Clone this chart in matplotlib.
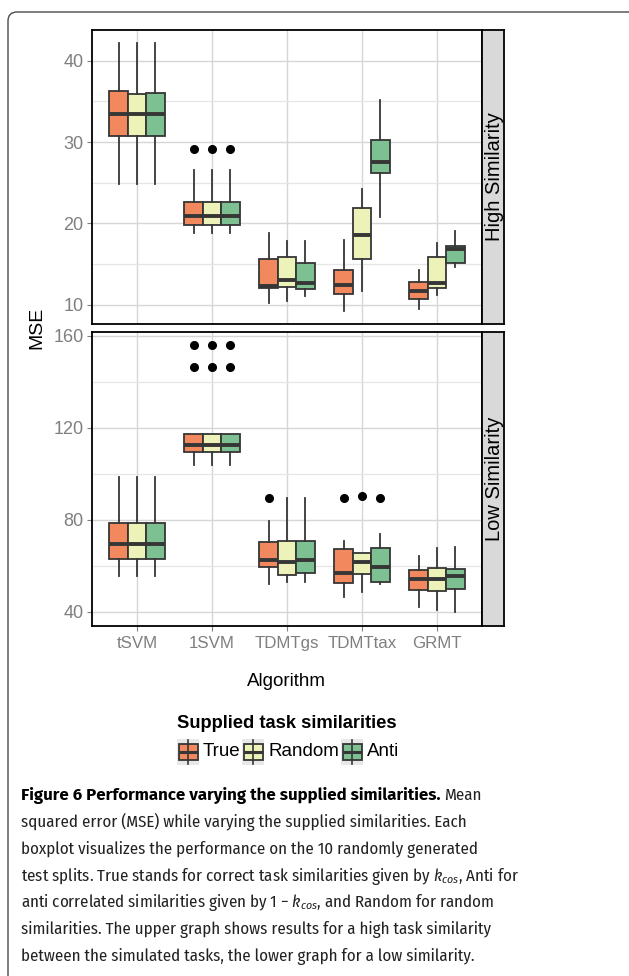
import matplotlib
matplotlib.use("Agg")
import matplotlib.pyplot as plt
from matplotlib import font_manager
from matplotlib.patches import Rectangle, FancyBboxPatch
from matplotlib.lines import Line2D
from matplotlib.transforms import IdentityTransform

algorithms = ["tSVM", "1SVM", "TDMTgs", "TDMTtax", "GRMT"]
groups = ["True", "Random", "Anti"]
fills = ["#F2895E", "#EDF2B8", "#7DC091"]

# five-number summaries per algorithm: whisker low, q1, median, q3, whisker high
high_true = [[24.8, 30.75, 33.4, 36.3, 42.15], [18.8, 19.8, 20.9, 22.6, 26.6],
             [10.15, 12.05, 12.3, 15.6, 18.85], [9.2, 11.3, 12.4, 14.2, 18.0],
             [9.45, 10.65, 11.65, 12.8, 14.25]]
high_random = [[24.8, 30.75, 33.4, 35.95, 42.15], [18.8, 19.8, 20.9, 22.6, 26.6],
               [10.4, 12.15, 13.0, 15.85, 17.8], [11.7, 15.6, 18.6, 21.9, 24.2],
               [11.2, 12.05, 12.6, 15.8, 17.6]]
high_anti = [[24.8, 30.75, 33.4, 36.0, 42.15], [18.8, 19.8, 20.9, 22.6, 26.6],
             [11.0, 11.95, 12.6, 15.15, 17.8], [20.75, 26.2, 27.5, 30.3, 35.2],
             [14.6, 15.1, 16.85, 17.15, 19.1]]
high_fliers = {"True": [[], [29.15], [], [], []],
               "Random": [[], [29.15], [], [], []],
               "Anti": [[], [29.15], [], [], []]}

low_true = [[55.6, 62.9, 69.7, 78.6, 98.8], [103.9, 109.4, 112.5, 117.1, 117.1],
            [52.0, 59.6, 62.6, 70.4, 79.7], [46.7, 52.5, 57.1, 67.4, 70.7],
            [42.0, 49.6, 54.3, 58.3, 64.5]]
low_random = [[55.6, 62.9, 69.7, 78.6, 98.8], [103.9, 109.4, 112.5, 117.1, 117.1],
              [52.9, 56.2, 61.9, 70.6, 89.4], [48.8, 56.5, 61.7, 65.5, 65.8],
              [40.9, 49.0, 54.2, 59.3, 67.7]]
low_anti = [[55.6, 62.9, 69.7, 78.6, 98.8], [103.9, 109.4, 112.5, 117.1, 117.1],
            [52.9, 57.1, 62.6, 70.6, 89.4], [52.0, 52.9, 59.7, 67.8, 73.8],
            [39.9, 50.0, 55.7, 58.7, 68.4]]
low_fliers = {"True": [[], [146.2, 155.8], [89.4], [89.3], []],
              "Random": [[], [146.2, 155.8], [], [90.4], []],
              "Anti": [[], [146.2, 155.8], [], [89.7], []]}

caption_head = "Figure 6 Performance varying the supplied similarities."
caption_lines = [
    "Mean",
    "squared error (MSE) while varying the supplied similarities. Each",
    "boxplot visualizes the performance on the 10 randomly generated",
    "test splits. True stands for correct task similarities given by $k_{cos}$, Anti for",
    "anti correlated similarities given by 1 \u2212 $k_{cos}$, and Random for random",
    "similarities. The upper graph shows results for a high task similarity",
    "between the simulated tasks, the lower graph for a low similarity.",
]


# a narrow humanist face for the caption (needs bold and italic), Lato otherwise
def has_styles(name, need_italic=True):
    faces = [f for f in font_manager.fontManager.ttflist if f.name == name]
    bold = any(f.weight in (600, 700, "bold", "semibold") and f.style == "normal" for f in faces)
    ital = any(f.style == "italic" for f in faces)
    return bold and (ital or not need_italic)


cap_font = next((n for n in ["Fira Sans Condensed", "PT Sans Narrow", "Lato"]
                 if has_styles(n)), "Lato")
head_font = "Fira Sans" if cap_font == "Fira Sans Condensed" and has_styles("Fira Sans", False) \
    else cap_font
plt.rcParams["font.family"] = ["Liberation Sans", "DejaVu Sans"]
plt.rcParams["mathtext.fontset"] = "custom"
plt.rcParams["mathtext.rm"] = cap_font
plt.rcParams["mathtext.it"] = cap_font + ":italic"

W, H = 629, 976
fig = plt.figure(figsize=(W / 100, H / 100), dpi=100)


def fbox(x0, y0, x1, y1):
    return [x0 / W, 1 - y1 / H, (x1 - x0) / W, (y1 - y0) / H]


def fx(px):
    return px / W


def fy(py):
    return 1 - py / H


line_c = "#363636"
tick_c = "#7f7f7f"


def draw_panel(ax, series, fliers, ylim, major, minor):
    for k, (g, data) in enumerate(zip(groups, series)):
        stats = []
        for i, row in enumerate(data):
            stats.append(dict(whislo=row[0], q1=row[1], med=row[2], q3=row[3],
                              whishi=row[4], fliers=fliers[g][i]))
        pos = [i + 1 + (k - 1) * 0.245 for i in range(len(algorithms))]
        ax.bxp(stats, positions=pos, widths=0.245, patch_artist=True, showcaps=False,
               manage_ticks=False,
               boxprops=dict(facecolor=fills[k], edgecolor=line_c, linewidth=1.3),
               medianprops=dict(color=line_c, linewidth=2.8, solid_capstyle="butt"),
               whiskerprops=dict(color=line_c, linewidth=1.3),
               flierprops=dict(marker="o", markerfacecolor="black",
                               markeredgecolor="black", markersize=5.5))
    ax.set_xlim(0.4, 5.6)
    ax.set_ylim(*ylim)
    ax.set_xticks(range(1, 6))
    ax.set_yticks(major)
    ax.set_yticks(minor, minor=True)
    ax.set_axisbelow(True)
    ax.grid(which="major", color="#d6d6d6", linewidth=1.0)
    ax.grid(which="minor", axis="y", color="#e6e6e6", linewidth=0.9)
    ax.tick_params(which="minor", length=0)
    ax.tick_params(which="major", length=3.5, color=tick_c, labelcolor=tick_c,
                   labelsize=13, pad=2.5)
    for s in ax.spines.values():
        s.set_color("black")
        s.set_linewidth(1.3)


def draw_strip(ax, label):
    ax.set_facecolor("#d9d9d9")
    ax.set_xticks([])
    ax.set_yticks([])
    for s in ax.spines.values():
        s.set_color("black")
        s.set_linewidth(1.3)
    ax.text(0.56, 0.5, label, rotation=90, ha="center", va="center",
            fontsize=14.5, transform=ax.transAxes)


# outer frame of the figure box
frame = FancyBboxPatch((8, -60), 700, H - 12 + 60, boxstyle="round,pad=0,rounding_size=9",
                       transform=IdentityTransform(), facecolor="none",
                       edgecolor="#4a4a4a", linewidth=1.0)
fig.add_artist(frame)

ax_hi = fig.add_axes(fbox(92, 30, 482, 324))
ax_lo = fig.add_axes(fbox(92, 331.7, 482, 626))
draw_panel(ax_hi, [high_true, high_random, high_anti], high_fliers,
           (7.6, 43.8), [10, 20, 30, 40], [15, 25, 35])
draw_panel(ax_lo, [low_true, low_random, low_anti], low_fliers,
           (33.9, 161.7), [40, 80, 120, 160], [60, 100, 140])
ax_hi.tick_params(axis="x", length=0, labelbottom=False)
ax_lo.set_xticklabels(algorithms)
ax_lo.tick_params(axis="x", labelsize=12.2, pad=4)

draw_strip(fig.add_axes(fbox(482, 30, 504, 324)), "High Similarity")
draw_strip(fig.add_axes(fbox(482, 331.7, 504, 626)), "Low Similarity")

fig.text(fx(37), fy(328), "MSE", rotation=90, ha="center", va="center", fontsize=14)
fig.text(fx(286), fy(681), "Algorithm", ha="center", va="center", fontsize=13.5)

# legend
fig.text(fx(287), fy(723), "Supplied task similarities", ha="center", va="center",
         fontsize=13.2, fontweight="bold")
key_x = [177, 242, 341]
for x0, g, c in zip(key_x, groups, fills):
    fig.add_artist(Rectangle((fx(x0), fy(765)), 22 / W, 26 / H, transform=fig.transFigure,
                             facecolor="#e8e8e8", edgecolor="none"))
    fig.add_artist(Line2D([fx(x0 + 11)] * 2, [fy(740), fy(764)], transform=fig.transFigure,
                          color=line_c, linewidth=1.2))
    fig.add_artist(Rectangle((fx(x0 + 1.5), fy(760)), 19 / W, 16 / H, transform=fig.transFigure,
                             facecolor=c, edgecolor=line_c, linewidth=1.3))
    fig.add_artist(Line2D([fx(x0 + 1.5), fx(x0 + 20.5)], [fy(752)] * 2, transform=fig.transFigure,
                          color=line_c, linewidth=2.2, solid_capstyle="butt"))
    fig.text(fx(x0 + 26), fy(752), g, ha="left", va="center", fontsize=13.5)

# caption, sized so the widest line matches the reference width
r = fig.canvas.get_renderer()
probe = fig.text(0, 0, caption_lines[3], fontsize=14, family=cap_font)
cap_size = 14 * 498 / probe.get_window_extent(r).width
probe.remove()

first = fig.text(fx(21), fy(800.5), caption_head, ha="left", va="baseline",
                 fontsize=cap_size, fontweight="bold", family=head_font)
bb = first.get_window_extent(r)
# keep the bold heading from running past the reference's end of it
if bb.x1 > 446:
    first.set_fontsize(cap_size * (446 - 21) / (bb.x1 - 21))
    bb = first.get_window_extent(r)
fig.text(bb.x1 / W + 4 / W, fy(800.5), caption_lines[0], ha="left", va="baseline",
         fontsize=cap_size, family=cap_font, color="#222222")
for j, line in enumerate(caption_lines[1:]):
    fig.text(fx(21), fy(800.5 + 26.7 * (j + 1)), line, ha="left", va="baseline",
             fontsize=cap_size, family=cap_font, color="#222222")

fig.savefig("out.png", dpi=100)
